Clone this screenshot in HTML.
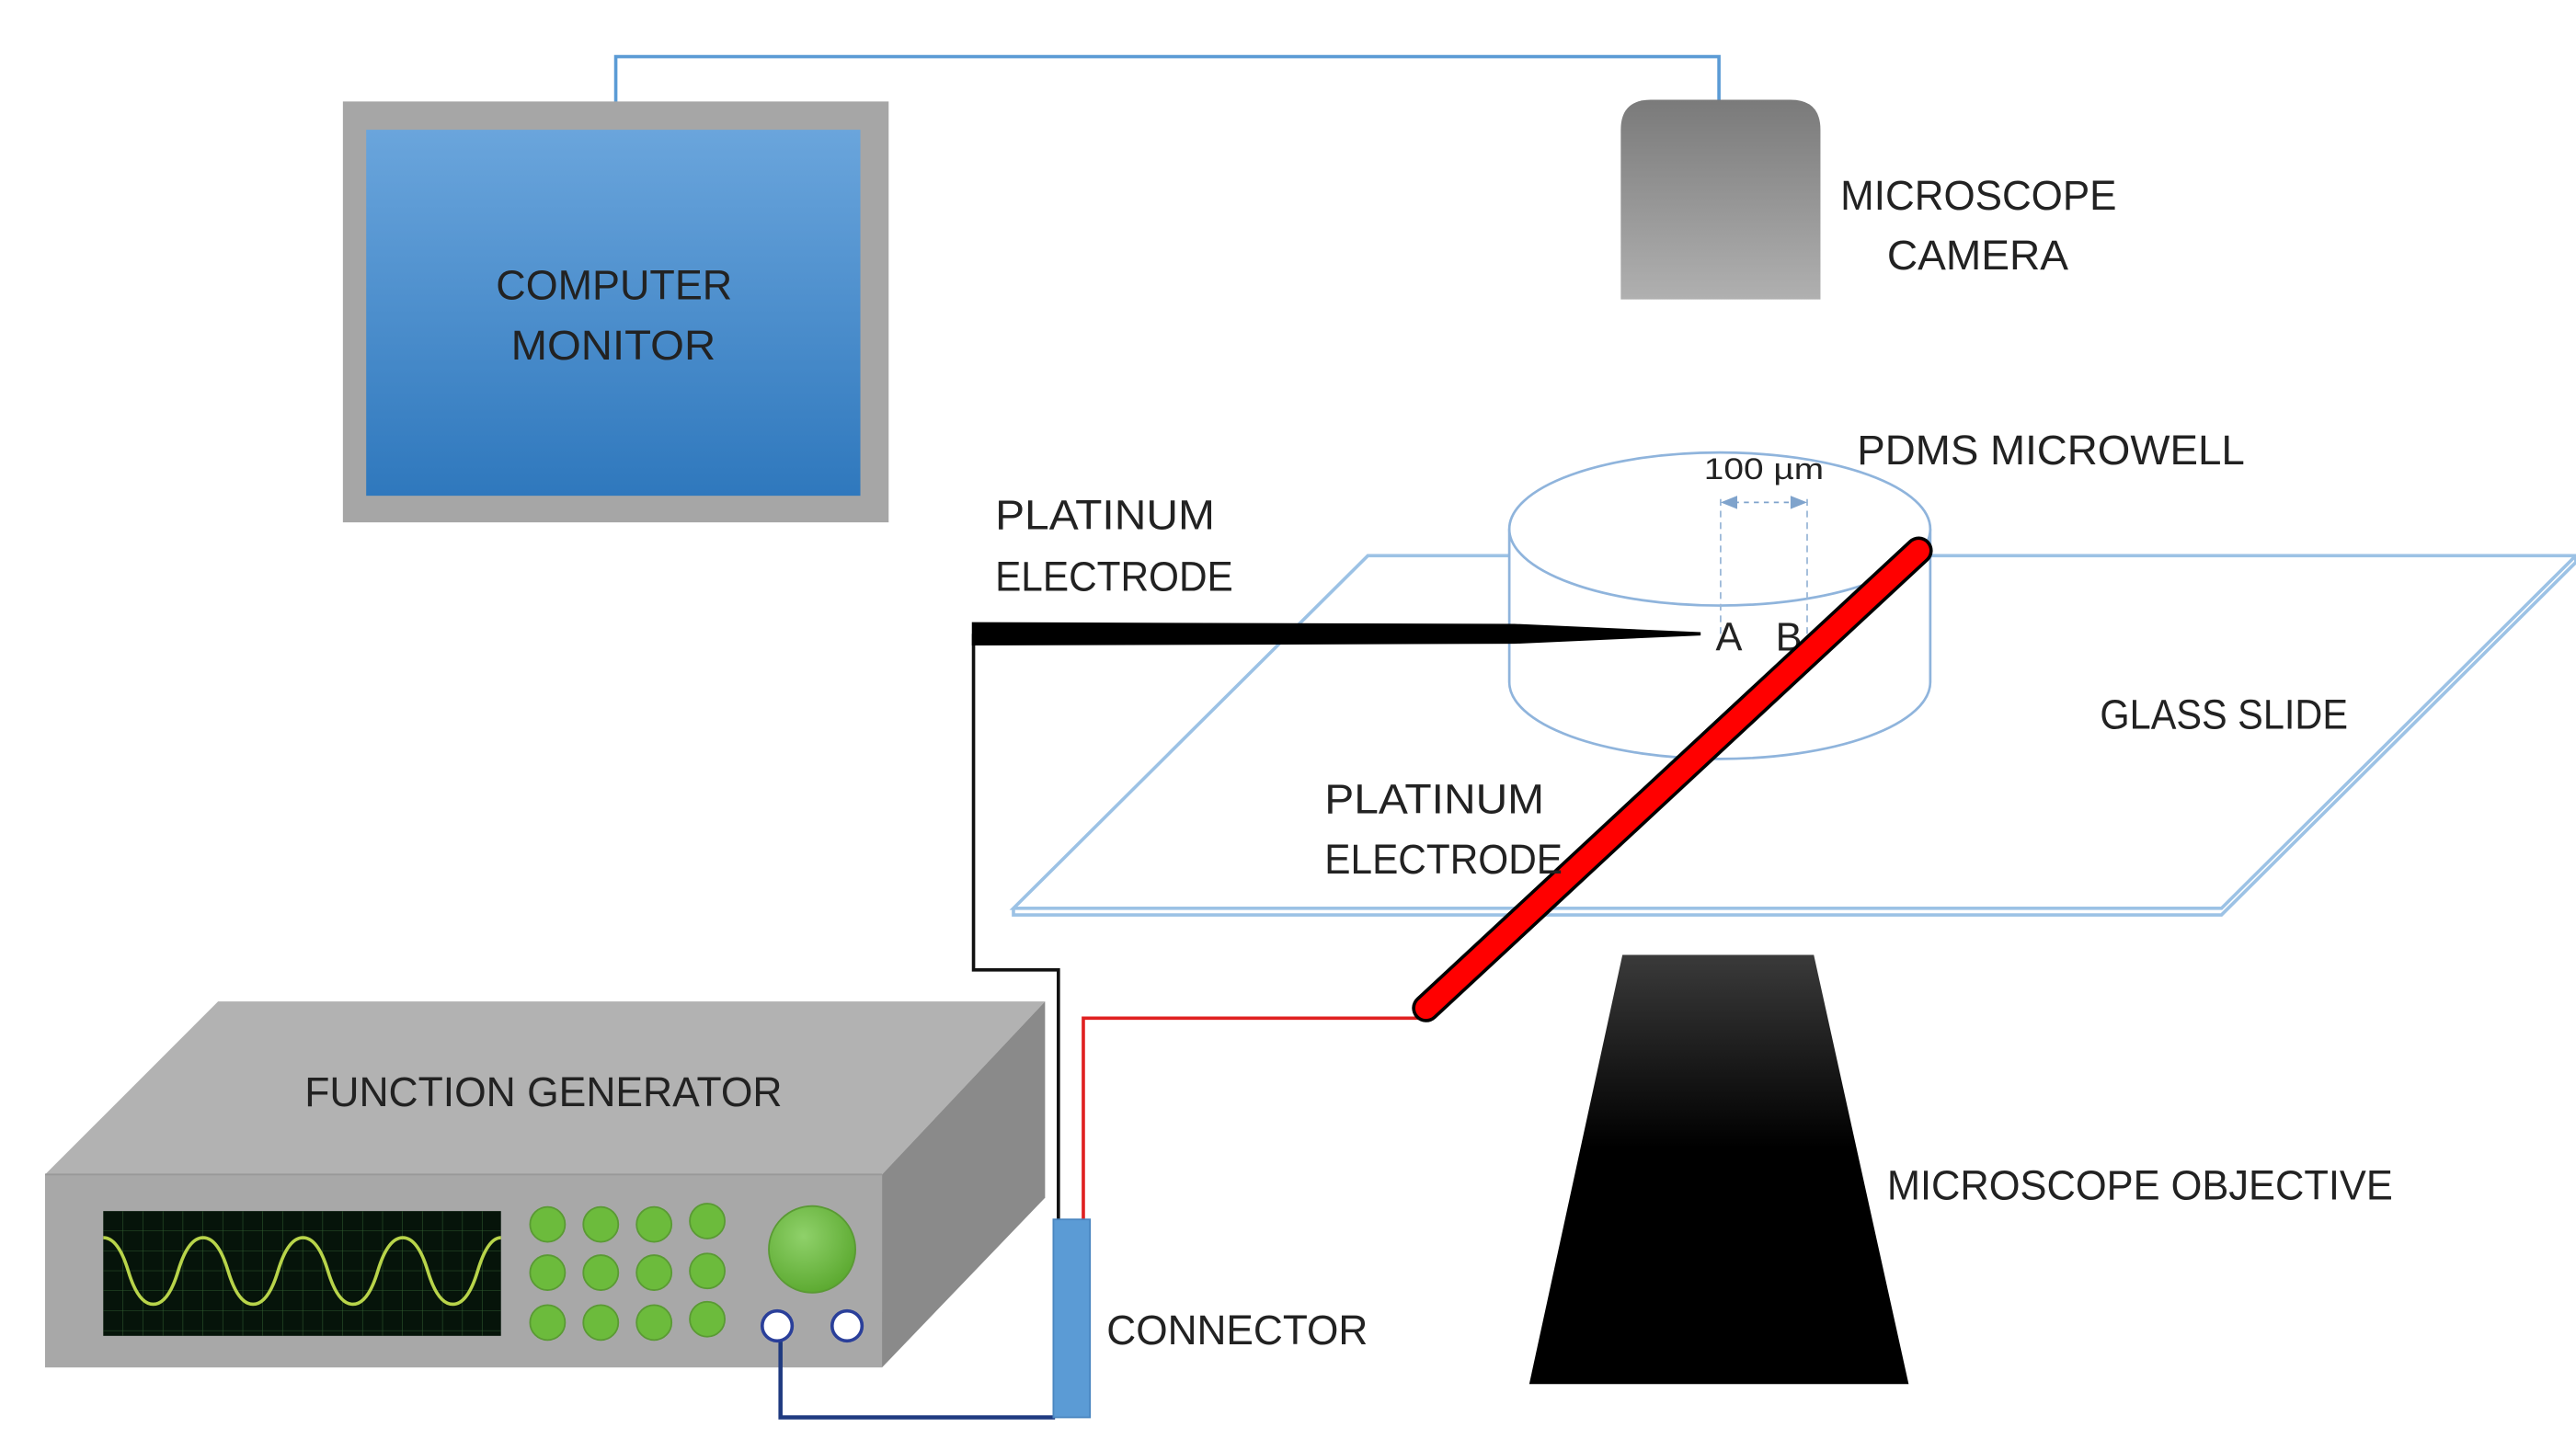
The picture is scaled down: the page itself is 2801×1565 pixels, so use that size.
<!DOCTYPE html>
<html><head><meta charset="utf-8"><style>
html,body{margin:0;padding:0;background:#fff;}
svg{display:block;}
text{font-family:"Liberation Sans",sans-serif;fill:#222;}
</style></head><body>
<svg width="2801" height="1565" viewBox="0 0 1548 865" xmlns="http://www.w3.org/2000/svg">
<defs>
<linearGradient id="mon" x1="0" y1="0" x2="0" y2="1"><stop offset="0" stop-color="#6aa5dc"/><stop offset="1" stop-color="#2f78bd"/></linearGradient>
<linearGradient id="cam" x1="0" y1="0" x2="0" y2="1"><stop offset="0" stop-color="#7a7a7a"/><stop offset="1" stop-color="#b0b0b0"/></linearGradient>
<linearGradient id="obj" x1="0" y1="0" x2="0" y2="1"><stop offset="0" stop-color="#3a3a3a"/><stop offset="0.45" stop-color="#000"/><stop offset="1" stop-color="#000"/></linearGradient>
<radialGradient id="knob" cx="0.4" cy="0.35" r="0.7"><stop offset="0" stop-color="#8fd16a"/><stop offset="1" stop-color="#5aa82e"/></radialGradient>
<pattern id="grid" width="12" height="12" patternUnits="userSpaceOnUse" x="62" y="728"><path d="M12 0V12M0 12H12" stroke="#2f5a2f" stroke-width="0.6" fill="none"/></pattern>
</defs>

<!-- blue cable monitor-camera -->
<polyline points="370,62 370,34 1033,34 1033,62" fill="none" stroke="#5b9bd5" stroke-width="2"/>

<!-- monitor -->
<rect x="206" y="61" width="328" height="253" fill="#a6a6a6"/>
<rect x="220" y="78" width="297" height="220" fill="url(#mon)"/>
<text x="298" y="180" font-size="25" textLength="142" lengthAdjust="spacingAndGlyphs">COMPUTER</text>
<text x="307" y="216" font-size="25" textLength="123" lengthAdjust="spacingAndGlyphs">MONITOR</text>

<!-- camera -->
<path d="M974,180 V78 Q974,60 992,60 H1076 Q1094,60 1094,78 V180 Z" fill="url(#cam)"/>
<text x="1106" y="126" font-size="25" textLength="166" lengthAdjust="spacingAndGlyphs">MICROSCOPE</text>
<text x="1134" y="162" font-size="25" textLength="109" lengthAdjust="spacingAndGlyphs">CAMERA</text>

<!-- glass slide -->
<polygon points="822,334 1548,334 1335,546 609,546" fill="#fff" stroke="#9cc2e5" stroke-width="2"/>
<polyline points="609,546 609,550 1335,550 1548,338 1548,334" fill="none" stroke="#9cc2e5" stroke-width="2"/>
<text x="1262" y="438" font-size="25" textLength="149" lengthAdjust="spacingAndGlyphs">GLASS SLIDE</text>

<!-- microwell -->
<path d="M907,318 V410 A126,46 0 0 0 1160,410 V318" fill="#fff" stroke="#8fb4dc" stroke-width="1.5"/>
<ellipse cx="1033.5" cy="318" rx="126.5" ry="46" fill="#fff" stroke="#8fb4dc" stroke-width="1.5"/>
<line x1="1034" y1="300" x2="1034" y2="385" stroke="#9cb8d8" stroke-width="1" stroke-dasharray="4,3"/>
<line x1="1086" y1="300" x2="1086" y2="385" stroke="#9cb8d8" stroke-width="1" stroke-dasharray="4,3"/>
<line x1="1042" y1="302" x2="1078" y2="302" stroke="#7fa3cc" stroke-width="1" stroke-dasharray="3,3"/>
<polygon points="1034,302 1044,298 1044,306" fill="#7fa3cc"/>
<polygon points="1086,302 1076,298 1076,306" fill="#7fa3cc"/>
<text x="1024" y="288" font-size="18" textLength="72" lengthAdjust="spacingAndGlyphs">100 µm</text>
<text x="1116" y="279" font-size="25" textLength="233" lengthAdjust="spacingAndGlyphs">PDMS MICROWELL</text>

<!-- black electrode & wire -->
<polyline points="585,381 585,583 636,583 636,734" fill="none" stroke="#111" stroke-width="2"/>
<polygon points="584,374 910,375 1022,380 1022,382 910,387 584,388" fill="#000"/>
<text x="1031" y="391" font-size="24">A</text>
<text x="1067" y="391" font-size="24">B</text>
<text x="598" y="318" font-size="25" textLength="132" lengthAdjust="spacingAndGlyphs">PLATINUM</text>
<text x="598" y="355" font-size="25" textLength="143" lengthAdjust="spacingAndGlyphs">ELECTRODE</text>

<!-- red wire & electrode -->
<polyline points="856,612 651,612 651,734" fill="none" stroke="#e02020" stroke-width="2"/>
<line x1="1153" y1="331" x2="857" y2="606" stroke="#000" stroke-width="17" stroke-linecap="round"/>
<line x1="1153" y1="331" x2="857" y2="606" stroke="#f00" stroke-width="13" stroke-linecap="round"/>
<text x="796" y="489" font-size="25" textLength="132" lengthAdjust="spacingAndGlyphs">PLATINUM</text>
<text x="796" y="525" font-size="25" textLength="143" lengthAdjust="spacingAndGlyphs">ELECTRODE</text>

<!-- objective -->
<polygon points="975,574 1090,574 1147,832 919,832" fill="url(#obj)"/>
<text x="1134" y="721" font-size="25" textLength="304" lengthAdjust="spacingAndGlyphs">MICROSCOPE OBJECTIVE</text>

<!-- function generator -->
<polygon points="131,602 628,602 530,706 27,706" fill="#b2b2b2"/>
<polygon points="530,706 628,602 628,720 530,822" fill="#8a8a8a"/>
<rect x="27" y="706" width="503" height="116" fill="#a8a8a8"/>
<line x1="27" y1="706" x2="530" y2="706" stroke="#999" stroke-width="1"/>
<text x="183" y="665" font-size="25" textLength="287" lengthAdjust="spacingAndGlyphs">FUNCTION GENERATOR</text>
<rect x="62" y="728" width="239" height="75" fill="#06140a"/>
<rect x="62" y="728" width="239" height="75" fill="url(#grid)"/>
<path d="M62,752 Q71,752 77,772 T92,792 T107,772 T122,752 T137,772 T152,792 T167,772 T182,752 T197,772 T212,792 T227,772 T242,752 T257,772 T272,792 T287,772 T301,752" fill="none" stroke="#b8d44a" stroke-width="2" transform="translate(0,-8)"/>
<g fill="#6cbb3c" stroke="#5a9a34" stroke-width="1">
<circle cx="329" cy="736" r="10.5"/><circle cx="361" cy="736" r="10.5"/><circle cx="393" cy="736" r="10.5"/><circle cx="425" cy="734" r="10.5"/>
<circle cx="329" cy="765" r="10.5"/><circle cx="361" cy="765" r="10.5"/><circle cx="393" cy="765" r="10.5"/><circle cx="425" cy="764" r="10.5"/>
<circle cx="329" cy="795" r="10.5"/><circle cx="361" cy="795" r="10.5"/><circle cx="393" cy="795" r="10.5"/><circle cx="425" cy="793" r="10.5"/>
</g>
<circle cx="488" cy="751" r="26" fill="url(#knob)" stroke="#5a9a34" stroke-width="1"/>
<polyline points="469,806 469,852 634,852" fill="none" stroke="#1f3a80" stroke-width="2.5"/>
<circle cx="467" cy="797" r="9" fill="#fff" stroke="#2a3f9a" stroke-width="2"/>
<circle cx="509" cy="797" r="9" fill="#fff" stroke="#2a3f9a" stroke-width="2"/>

<!-- connector -->
<rect x="633" y="733" width="22" height="119" fill="#5b9bd5" stroke="#4a86c0" stroke-width="1"/>
<text x="665" y="808" font-size="25" textLength="157" lengthAdjust="spacingAndGlyphs">CONNECTOR</text>
</svg>
</body></html>
